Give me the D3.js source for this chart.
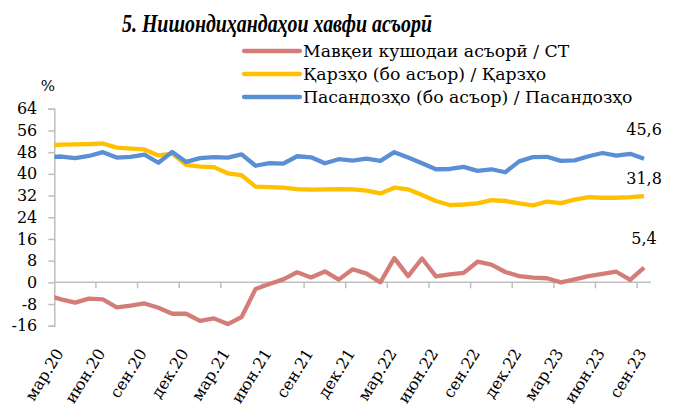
<!DOCTYPE html>
<html>
<head>
<meta charset="utf-8">
<script src="https://cdn.jsdelivr.net/npm/d3@7"></script>
<style>
  html, body { margin: 0; padding: 0; background: #fff; }
  svg { display: block; }
</style>
</head>
<body>
<script>
// ---- data ----
// first month (фев.20) lies left of the axis start and is clipped, as in the reference
const months = [
  "фев.20","мар.20","апр.20","май.20","июн.20","июл.20","авг.20","сен.20","окт.20","ноя.20","дек.20",
  "янв.21","фев.21","мар.21","апр.21","май.21","июн.21","июл.21","авг.21","сен.21","окт.21","ноя.21","дек.21",
  "янв.22","фев.22","мар.22","апр.22","май.22","июн.22","июл.22","авг.22","сен.22","окт.22","ноя.22","дек.22",
  "янв.23","фев.23","мар.23","апр.23","май.23","июн.23","июл.23","авг.23","сен.23"
];
const axisStart = "мар.20";
const openPosition = [
  -4.8,-6.3,-7.5,-6.0,-6.3,-9.2,-8.6,-7.8,-9.4,-11.6,-11.6,
  -14.2,-13.3,-15.4,-12.8,-2.5,-0.6,1.1,3.7,1.8,4.0,1.0,4.8,
  3.2,0.0,8.9,2.3,8.8,2.2,2.9,3.5,7.6,6.5,3.8,2.3,
  1.7,1.5,0.0,1.1,2.3,3.1,3.9,0.9,5.4
];
const loans = [
  50.5,50.8,50.9,51.0,51.2,49.7,49.3,49.0,46.8,47.5,43.3,
  42.7,42.5,40.2,39.5,35.3,35.1,34.9,34.4,34.2,34.3,34.4,34.3,
  33.8,32.8,34.9,34.3,32.2,30.0,28.5,28.7,29.1,30.3,30.0,29.1,
  28.4,29.8,29.2,30.5,31.4,31.2,31.2,31.4,31.8
];
const deposits = [
  46.1,46.4,45.8,46.6,48.0,46.0,46.3,47.1,44.1,48.1,44.4,
  45.8,46.2,46.0,47.2,43.0,44.0,43.8,46.5,46.1,43.9,45.4,44.9,
  45.6,44.8,48.0,46.0,43.9,41.7,41.8,42.6,41.1,41.7,40.6,44.6,
  46.2,46.3,44.8,45.0,46.5,47.7,46.7,47.4,45.6
];
const seriesNames = [
  "Мавқеи кушодаи асъорӣ / СТ",
  "Қарзҳо (бо асъор) / Қарзҳо",
  "Пасандозҳо (бо асъор) / Пасандозҳо"
];
const yTicks = [-16,-8,0,8,16,24,32,40,48,56,64];
const titleText = "5. Нишондиҳандаҳои хавфи асъорӣ";
const unitText = "%";

// ---- styles ----
const colors = ["#D47C78", "#FFC000", "#5A8FD6"];
const labelOffsets = [24, 12, 24];
const W = 675, H = 405;
const plot = { left: 54.3, right: 651, top: 108.8, bottom: 325.7 };
const serif = "'DejaVu Serif', serif";

const series = [openPosition, loans, deposits].map((vals, k) => ({
  name: seriesNames[k], color: colors[k], off: labelOffsets[k],
  values: vals.map((v, i) => ({ m: months[i], v }))
}));

const shown = months.slice(months.indexOf(axisStart));

const svg = d3.select("body").append("svg").attr("width", W).attr("height", H)
  .style("font-family", serif);

const idx0 = months.indexOf(axisStart);
const x = d3.scaleLinear().domain([0, shown.length]).range([plot.left, plot.right]);
const xPos = m => x(months.indexOf(m) - idx0 + 0.5);
const y = d3.scaleLinear().domain([-16, 64]).range([plot.bottom, plot.top]);

const fmt = d3.formatLocale({decimal: ",", thousands: " ", grouping: [3], currency: ["", ""], minus: "-"}).format(".1f");

const grey = "#BFBFBF";

// y axis
const yAxis = svg.append("g").attr("transform", `translate(${plot.left},0)`)
  .call(d3.axisLeft(y).tickValues(yTicks).tickSize(6).tickFormat(d => String(d)));
yAxis.select(".domain").attr("stroke", grey).attr("stroke-width", 1.5);
yAxis.selectAll(".tick line").attr("stroke", grey).attr("stroke-width", 1.5);
yAxis.selectAll(".tick text").attr("x", -17).attr("font-size", 16).attr("font-family", serif).attr("fill", "#000");

// x axis line at zero with boundary ticks every 3 months
const boundaryTicks = d3.range(3, shown.length + 1, 3).map(i => x(i));
const xg = svg.append("g").attr("transform", `translate(0,${y(0)})`);
xg.append("line").attr("x1", plot.left).attr("x2", plot.right).attr("stroke", grey).attr("stroke-width", 1.5);
xg.selectAll("line.t").data(boundaryTicks).join("line").attr("class", "t")
  .attr("x1", d => d).attr("x2", d => d).attr("y1", 0).attr("y2", 6)
  .attr("stroke", grey).attr("stroke-width", 1.5);

// x labels (low position, rotated)
const labelMonths = shown.filter((m, i) => i % 3 === 0);
svg.append("g").selectAll("text").data(labelMonths).join("text")
  .attr("transform", d => `translate(${xPos(d) + 3},353) rotate(-58)`)
  .attr("text-anchor", "end").attr("font-size", 16).attr("fill", "#000")
  .text(d => d);

// lines
svg.append("clipPath").attr("id", "clip").append("rect")
  .attr("x", plot.left).attr("y", 0).attr("width", W - plot.left).attr("height", H);
const line = d3.line().x(d => xPos(d.m)).y(d => y(d.v));
svg.append("g").attr("clip-path", "url(#clip)").selectAll("path").data(series).join("path")
  .attr("d", d => line(d.values)).attr("fill", "none")
  .attr("stroke", d => d.color).attr("stroke-width", 4.3)
  .attr("stroke-linejoin", "round").attr("stroke-linecap", "butt");

// end value labels
svg.append("g").selectAll("text").data(series).join("text")
  .attr("x", d => xPos(d.values[d.values.length - 1].m))
  .attr("y", d => y(d.values[d.values.length - 1].v) - d.off)
  .attr("text-anchor", "middle").attr("font-size", 16).attr("fill", "#000")
  .text(d => fmt(d.values[d.values.length - 1].v));

// title
svg.append("text").attr("x", 277).attr("y", 32).attr("text-anchor", "middle")
  .attr("font-family", "'Liberation Serif', serif").attr("font-weight", "bold").attr("font-style", "italic")
  .attr("font-size", 26).attr("textLength", 310).attr("lengthAdjust", "spacingAndGlyphs")
  .attr("fill", "#000").text(titleText);

// unit
svg.append("text").attr("x", 48).attr("y", 91).attr("text-anchor", "middle")
  .attr("font-size", 15).attr("fill", "#000").text(unitText);

// legend
const leg = svg.append("g").selectAll("g").data(series).join("g")
  .attr("transform", (d, i) => `translate(244,${51 + i * 23})`);
leg.append("line").attr("x1", 0).attr("x2", 56).attr("stroke", d => d.color)
  .attr("stroke-width", 4.3).attr("stroke-linecap", "round");
leg.append("text").attr("x", 59).attr("dy", "0.35em").attr("font-size", 17.3).attr("fill", "#000")
  .text(d => d.name);
</script>
</body>
</html>
